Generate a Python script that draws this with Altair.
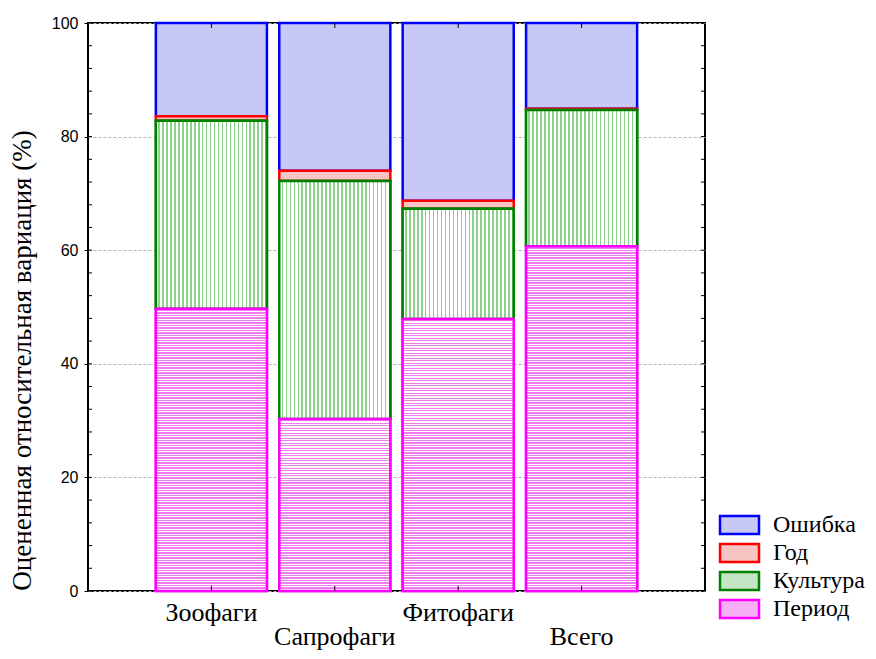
import altair as alt
import pandas as pd

categories = ["Зоофаги", "Сапрофаги", "Фитофаги", "Всего"]
components = ["Ошибка", "Год", "Культура", "Период"]
period = [49.7, 30.3, 47.9, 60.7]
culture = [33.1, 41.9, 19.4, 24.0]
year = [0.8, 1.8, 1.4, 0.2]
error = [16.4, 26.0, 31.3, 15.1]
y_ticks = [0, 20, 40, 60, 80, 100]
minor_ticks = list(range(0, 101, 4))

W, H = 617, 568
fill_colors = ["#c8c8f6", "#f8c4c4", "#c4e6c4", "#f6b0f6"]
stroke_colors = ["#0000ff", "#ff0000", "#008000", "#ff00ff"]
SW = 2.5
SERIF = "Liberation Serif"

# stacked table (bottom -> top: Период, Культура, Год, Ошибка)
rows = []
for i, c in enumerate(categories):
    base = 0.0
    for comp, vals in [("Период", period), ("Культура", culture), ("Год", year), ("Ошибка", error)]:
        v = vals[i]
        rows.append({"cat": c, "comp": comp, "y0": base, "y1": base + v, "val": v})
        base += v
df = pd.DataFrame(rows)
df["draw"] = df["comp"].map({k: n for n, k in enumerate(components)})
df = df.sort_values(["draw", "cat"]).reset_index(drop=True)


def stripes(n, color, frac, horizontal):
    stops = []
    for k in range(n):
        a = k / n
        b = (k + 1 - frac) / n
        e = (k + 1) / n
        stops += [
            {"offset": a, "color": "#ffffff"},
            {"offset": b, "color": "#ffffff"},
            {"offset": b, "color": color},
            {"offset": e, "color": color},
        ]
    if horizontal:
        return {"gradient": "linear", "x1": 0, "y1": 0, "x2": 0, "y2": 1, "stops": stops}
    return {"gradient": "linear", "x1": 0, "y1": 0, "x2": 1, "y2": 0, "stops": stops}


xs = alt.Scale(domain=categories, paddingInner=0.1, paddingOuter=0.55)
ys = alt.Scale(domain=[0, 100], nice=False, zero=True)

x_axis = alt.Axis(
    title=None, labelAngle=0, domain=False, ticks=False, grid=False,
    labelFont=SERIF, labelFontSize=26, labelColor="black",
    labelBaseline="top",
    labelPadding={"condition": {"test": "indexof(['Сапрофаги','Всего'], datum.value) >= 0", "value": 32}, "value": 8},
)
y_title = "Оцененная относительная вариация (%)"
y_axis = alt.Axis(
    values=y_ticks, grid=True, gridDash=[3, 2], gridColor="#b4b4b4", gridWidth=1,
    domain=False, tickSize=4, tickColor="black", tickWidth=1,
    labelFont="Liberation Sans", labelFontSize=16, labelColor="black", labelPadding=6,
    title=y_title, titleFont=SERIF,
    titleFontSize=27, titleFontWeight="normal", titleColor="black",
    titleY=337, titlePadding=15,
)

legend = alt.Legend(
    title=None, orient="none", legendX=639.5, legendY=490, padding=0,
    symbolType="M-1.95,-0.9L1.95,-0.9L1.95,0.9L-1.95,0.9Z", symbolSize=400,
    symbolStrokeWidth=SW, symbolOpacity=1, labelFont=SERIF,
    labelFontSize=24, labelColor="black", labelOffset=21.5, rowPadding=0,
)

X = alt.X("cat:N", sort=categories, scale=xs, axis=x_axis)
Y0 = alt.Y("y0:Q", scale=ys, axis=y_axis, title=y_title)

base = alt.Chart(df).mark_bar(strokeWidth=SW, opacity=1).encode(
    x=X, y=Y0, y2="y1:Q",
    fill=alt.Fill("comp:N", scale=alt.Scale(domain=components, range=fill_colors), legend=legend),
    stroke=alt.Stroke("comp:N", scale=alt.Scale(domain=components, range=stroke_colors), legend=legend),
)

culture_layer = alt.Chart(df).transform_filter(alt.datum.comp == "Культура").mark_bar(
    fill=stripes(28, "#8cd08c", 0.4, False), stroke="#008000", strokeWidth=SW
).encode(x=X, y=Y0, y2="y1:Q")

period_layers = []
for i, c in enumerate(categories):
    n = max(1, round(period[i] * H / 100 / 2.5))
    period_layers.append(
        alt.Chart(df).transform_filter((alt.datum.comp == "Период") & (alt.datum.cat == c)).mark_bar(
            fill=stripes(n, "#f07cf0", 0.5, True), stroke="#ff00ff", strokeWidth=SW
        ).encode(x=X, y=Y0, y2="y1:Q")
    )

tick_df = pd.DataFrame({"t": minor_ticks})
YT = alt.Y("t:Q", scale=ys, axis=y_axis, title=y_title)
left_ticks = alt.Chart(tick_df).mark_rule(color="black", strokeWidth=1).encode(
    y=YT, x=alt.value(0), x2=alt.value(4))
right_ticks = alt.Chart(tick_df).mark_rule(color="black", strokeWidth=1).encode(
    y=YT, x=alt.value(W), x2=alt.value(W - 4))
cat_df = pd.DataFrame({"cat": categories})
bottom_ticks = alt.Chart(cat_df).mark_rule(color="black", strokeWidth=1).encode(
    x=X, y=alt.value(H), y2=alt.value(H - 5))
top_ticks = alt.Chart(cat_df).mark_rule(color="black", strokeWidth=1).encode(
    x=X, y=alt.value(0), y2=alt.value(5))

chart = alt.layer(
    base, culture_layer, *period_layers, left_ticks, right_ticks, bottom_ticks, top_ticks
).properties(
    width=W, height=H,
    autosize=alt.AutoSizeParams(type="none"),
    padding={"left": 80, "top": 15, "right": 163, "bottom": 60},
).configure(background="white").configure_view(
    stroke="black", strokeWidth=2
).configure_axisY(
    titleFont=SERIF, titleFontSize=27, titleFontWeight="normal"
).configure_axisX(
    labelFont=SERIF, labelFontSize=26
).configure_legend(
    labelFont=SERIF, labelFontSize=24
)

chart.save("out.html", embed_options={"renderer": "svg", "actions": False})
